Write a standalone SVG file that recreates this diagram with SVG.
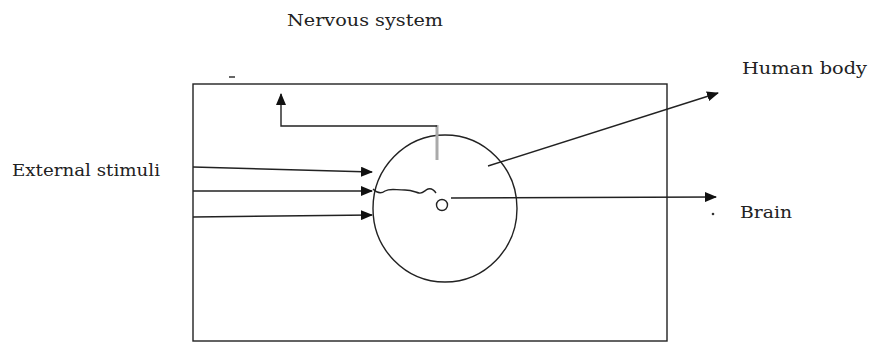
<svg xmlns="http://www.w3.org/2000/svg" width="873" height="343" viewBox="0 0 873 343">
<style>
.ln{stroke:#222;stroke-width:1.4;fill:none}
text{font-family:'DejaVu Serif',serif;font-size:17px;fill:#222}
</style>
<defs>
<marker id="ah" markerWidth="12" markerHeight="10" refX="11" refY="5" orient="auto" markerUnits="userSpaceOnUse">
<path d="M0,0 L12,5 L0,10 Z" fill="#111"/>
</marker>
</defs>
<rect width="873" height="343" fill="#fff"/>
<g id="labels">
<text x="287" y="26" textLength="156" lengthAdjust="spacingAndGlyphs">Nervous system</text>
<text x="12" y="176" textLength="148" lengthAdjust="spacingAndGlyphs">External stimuli</text>
<text x="742" y="74" textLength="125" lengthAdjust="spacingAndGlyphs">Human body</text>
<text x="740" y="218" textLength="52" lengthAdjust="spacingAndGlyphs">Brain</text>
</g>
<g id="nervous-system">
<rect class="ln" x="193" y="84" width="474" height="257"/>
<line x1="229" y1="77" x2="235" y2="77" stroke="#333" stroke-width="1.5"/>
</g>
<g id="body">
<ellipse class="ln" cx="445" cy="208.5" rx="72" ry="73.5"/>
<line x1="437" y1="125" x2="437" y2="160" stroke="#aaa" stroke-width="3"/>
</g>
<g id="brain">
<circle class="ln" cx="442" cy="205" r="5.5"/>
<circle cx="713" cy="214" r="1.3" fill="#333"/>
</g>
<g id="connectors">
<polyline class="ln" points="437,126 281,126 281,94" marker-end="url(#ah)"/>
<line class="ln" x1="193" y1="167" x2="372" y2="172" marker-end="url(#ah)"/>
<line class="ln" x1="193" y1="191" x2="372" y2="191" marker-end="url(#ah)"/>
<line class="ln" x1="193" y1="217" x2="372" y2="215" marker-end="url(#ah)"/>
<path class="ln" d="M373,189 C377,193 381,194 385,191 C390,188 395,190 405,190 C412,190 415,192 419,193 C423,194 425,190 428,189 C431,188 434,190 436,193"/>
<line class="ln" x1="451" y1="198" x2="716" y2="197" marker-end="url(#ah)"/>
<line class="ln" x1="488" y1="166" x2="718" y2="93" marker-end="url(#ah)"/>
</g>
</svg>
